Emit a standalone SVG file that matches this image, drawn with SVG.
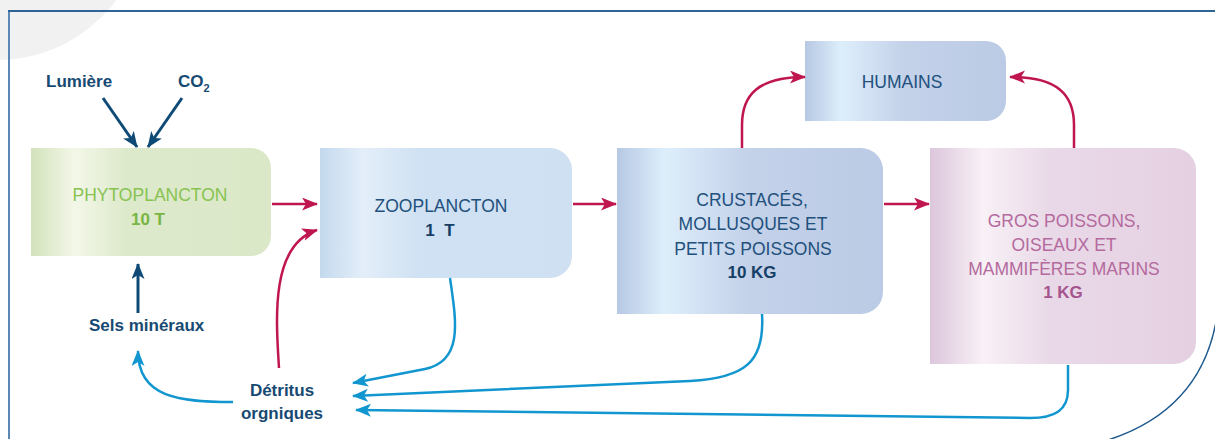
<svg xmlns="http://www.w3.org/2000/svg" width="1215" height="439" viewBox="0 0 1215 439">
<style>
.lbl{font-family:"Liberation Sans",Arial,sans-serif;font-size:17px;font-weight:bold;fill:#174a72}
.t{font-family:"Liberation Sans",Arial,sans-serif;font-size:17.5px;text-anchor:middle}
.b{font-weight:bold;font-size:17px}
.blue{fill:#21507c}.blueb{fill:#163f66}
.green{fill:#88c351}.greenb{fill:#77b544}
.pink{fill:#b46a9d}.pinkb{fill:#a5548e}
.red{fill:none;stroke:#c0164f;stroke-width:2.5}
.cy{fill:none;stroke:#1196d0;stroke-width:2.5}
.dk{fill:none;stroke:#0f4a76;stroke-width:3}
</style>
<defs>
<linearGradient id="gPhyto" x1="0" x2="1" y1="0" y2="0">
<stop offset="0" stop-color="#d2e2bb"/><stop offset="0.18" stop-color="#f3f7e8"/><stop offset="0.4" stop-color="#dde9cb"/><stop offset="1" stop-color="#dbe8c8"/>
</linearGradient>
<linearGradient id="gZoo" x1="0" x2="1" y1="0" y2="0">
<stop offset="0" stop-color="#c4d9ee"/><stop offset="0.17" stop-color="#e3eef9"/><stop offset="0.4" stop-color="#cfe1f2"/><stop offset="1" stop-color="#cee0f1"/>
</linearGradient>
<linearGradient id="gCrus" x1="0" x2="1" y1="0" y2="0">
<stop offset="0" stop-color="#b7c8e4"/><stop offset="0.18" stop-color="#ddeefb"/><stop offset="0.5" stop-color="#c3d1e9"/><stop offset="1" stop-color="#bccbe5"/>
</linearGradient>
<linearGradient id="gGros" x1="0" x2="1" y1="0" y2="0">
<stop offset="0" stop-color="#dcc6dc"/><stop offset="0.2" stop-color="#f8f1f6"/><stop offset="0.45" stop-color="#e9d9e8"/><stop offset="1" stop-color="#e5d0e2"/>
</linearGradient>
<marker id="ar" markerUnits="userSpaceOnUse" markerWidth="18" markerHeight="14" refX="15" refY="6.5" orient="auto">
<path d="M0,0 L16,6.5 L0,13 L4,6.5 z" fill="#c0164f"/>
</marker>
<marker id="ab" markerUnits="userSpaceOnUse" markerWidth="18" markerHeight="14" refX="15" refY="6.5" orient="auto">
<path d="M0,0 L16,6.5 L0,13 L4,6.5 z" fill="#1196d0"/>
</marker>
<marker id="ad" markerUnits="userSpaceOnUse" markerWidth="18" markerHeight="14" refX="15" refY="6.5" orient="auto">
<path d="M0,0 L16,6.5 L0,13 L4,6.5 z" fill="#0f4a76"/>
</marker>
</defs>
<g id="background">
<circle cx="-3" cy="-89" r="149" fill="#f1f1f1"/>
<path d="M9,439 L9,11 L1215,11" fill="none" stroke="#2f6496" stroke-width="2"/>
<path d="M9,439 L9,12" fill="none" stroke="#5b87b5" stroke-width="2"/>
<path d="M1216,322 C1205,380 1170,420 1108,440" fill="none" stroke="#1f5a8f" stroke-width="1.5"/>
</g>
<g id="phytoplancton">
<path d="M31,148 H251 A20,20 0 0 1 271,168 V236 A20,20 0 0 1 251,256 H31 Z" fill="url(#gPhyto)"/>
<text class="t green" x="150" y="201">PHYTOPLANCTON</text>
<text class="t b greenb" x="148" y="225">10 T</text>
</g>
<g id="zooplancton">
<path d="M320,148 H550 A22,22 0 0 1 572,170 V256 A22,22 0 0 1 550,278 H320 Z" fill="url(#gZoo)"/>
<text class="t blue" x="441" y="212">ZOOPLANCTON</text>
<text class="t b blueb" x="440" y="236" xml:space="preserve">1  T</text>
</g>
<g id="crustaces">
<path d="M617,148 H861 A22,22 0 0 1 883,170 V292 A22,22 0 0 1 861,314 H617 Z" fill="url(#gCrus)"/>
<text class="t blue" x="752" y="206">CRUSTACÉS,</text>
<text class="t blue" x="753" y="230">MOLLUSQUES ET</text>
<text class="t blue" x="753" y="255">PETITS POISSONS</text>
<text class="t b blueb" x="752" y="278">10 KG</text>
</g>
<g id="humains">
<path d="M805,41 H986 A20,20 0 0 1 1006,61 V101 A20,20 0 0 1 986,121 H805 Z" fill="url(#gCrus)"/>
<text class="t blue" x="902" y="88">HUMAINS</text>
</g>
<g id="gros-poissons">
<path d="M930,148 H1174 A22,22 0 0 1 1196,170 V342 A22,22 0 0 1 1174,364 H930 Z" fill="url(#gGros)"/>
<text class="t pink" x="1064" y="227">GROS POISSONS,</text>
<text class="t pink" x="1064" y="251">OISEAUX ET</text>
<text class="t pink" x="1064" y="275">MAMMIFÈRES MARINS</text>
<text class="t b pinkb" x="1063" y="298">1 KG</text>
</g>
<g id="lumiere"><text class="lbl" x="46" y="87">Lumière</text></g>
<g id="co2"><text class="lbl" x="178" y="87">CO<tspan font-size="11" dy="5">2</tspan></text></g>
<g id="sels-mineraux"><text class="lbl" x="89" y="331">Sels minéraux</text></g>
<g id="detritus"><text class="lbl" x="282" y="396" text-anchor="middle">Détritus</text><text class="lbl" x="282" y="419" text-anchor="middle">orgniques</text></g>
<g id="connectors">
<path class="dk" d="M103,98 L137,147" marker-end="url(#ad)"/>
<path class="dk" d="M182,98 L148,147" marker-end="url(#ad)"/>
<path class="dk" d="M138,313 L138,264" marker-end="url(#ad)"/>
<path class="red" d="M272,204 L317,204" marker-end="url(#ar)"/>
<path class="red" d="M573,204 L616,204" marker-end="url(#ar)"/>
<path class="red" d="M884,204 L929,204" marker-end="url(#ar)"/>
<path class="red" d="M742,148 L742,125 C742,95 758,77 805,77" marker-end="url(#ar)"/>
<path class="red" d="M1074,148 L1074,125 C1074,95 1058,77 1010,77" marker-end="url(#ar)"/>
<path class="red" d="M279,368 C276,320 270,245 317,230" marker-end="url(#ar)"/>
<path class="cy" d="M233,402 C180,402 138,398 138,351" marker-end="url(#ab)"/>
<path class="cy" d="M450,278 C456,320 464,361 425,369 L353,383" marker-end="url(#ab)"/>
<path class="cy" d="M762,314 C765,362 745,378 690,381 L353,396" marker-end="url(#ab)"/>
<path class="cy" d="M1068,365 L1068,390 C1068,410 1055,418 1030,418 L356,410" marker-end="url(#ab)"/>
</g>
</svg>
